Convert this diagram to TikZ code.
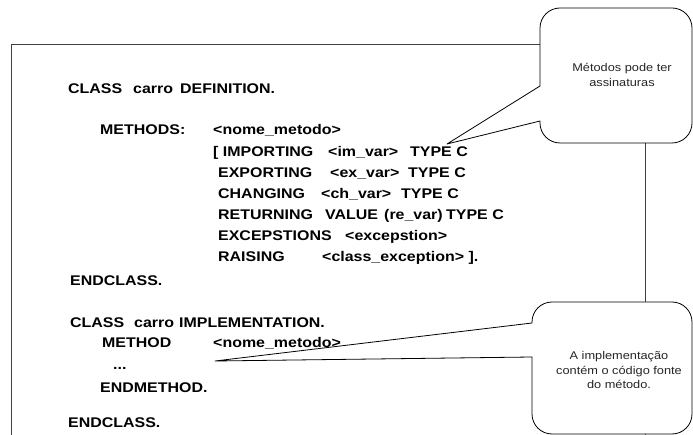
\documentclass[tikz,border=0pt]{standalone}
\usepackage{fontspec}
\setmainfont{Liberation Sans}[FakeStretch=1.14]
\begin{document}
\begin{tikzpicture}[x=1pt,y=-1pt,
  code/.style={anchor=base west, inner sep=0pt, font=\fontsize{14}{16}\selectfont\bfseries},
  note/.style={align=center, inner sep=0pt, font=\fontsize{11.2}{14.5}\selectfont, text=black!85},
  callout/.style={draw=black, line width=0.8pt, fill=white, line join=round},
  frameline/.style={draw=black!75, line width=0.8pt}]
\useasboundingbox (0,0) rectangle (693,435);
% frame
\draw[frameline] (11,445) -- (11,44) -- (645,44) -- (645,445);
% callouts
\coordinate (tip1) at (447,144);
\coordinate (tip2) at (215,361);
\draw[callout] (540,86) -- (tip1) -- (540,121) -- (540,123)
  arc[start angle=180,end angle=90,radius=20] -- (672,143)
  arc[start angle=90,end angle=0,radius=20] -- (692,28)
  arc[start angle=0,end angle=-90,radius=20] -- (560,8)
  arc[start angle=-90,end angle=-180,radius=20] -- cycle;
\draw[callout] (532,323) -- (tip2) -- (532,357) -- (532,414)
  arc[start angle=180,end angle=90,radius=20] -- (672,434)
  arc[start angle=90,end angle=0,radius=20] -- (692,322)
  arc[start angle=0,end angle=-90,radius=20] -- (552,302)
  arc[start angle=-90,end angle=-180,radius=20] -- cycle;
\node[note] (n1) at (622,75) {Métodos pode ter\\assinaturas};
\node[note] (n2) at (619,370) {A implementação\\contém o código fonte\\do método.};
% definition
\node[code] (c1) at (68,94) {CLASS};
\node[code] (c2) at (133,94) {carro};
\node[code] (c3) at (180,94) {DEFINITION.};
\node[code] (m1) at (100,135) {METHODS:};
\node[code] (m2) at (213,135) {<nome\_metodo>};
\node[code] (i1) at (213,157) {[ IMPORTING};
\node[code] (i2) at (328,157) {<im\_var>};
\node[code] (i3) at (410,157) {TYPE C};
\node[code] (e1) at (218,178) {EXPORTING};
\node[code] (e2) at (330,178) {<ex\_var>};
\node[code] (e3) at (408,178) {TYPE C};
\node[code] (h1) at (218,199) {CHANGING};
\node[code] (h2) at (321,199) {<ch\_var>};
\node[code] (h3) at (401,199) {TYPE C};
\node[code] (r1) at (218,220) {RETURNING};
\node[code] (r2) at (325,220) {VALUE};
\node[code] (r3) at (384,220) {(re\_var)};
\node[code] (r4) at (446,220) {TYPE C};
\node[code] (x1) at (218,241) {EXCEPSTIONS};
\node[code] (x2) at (345,241) {<excepstion>};
\node[code] (s1) at (218,262) {RAISING};
\node[code] (s2) at (322,262) {<class\_exception> ].};
\node[code] (ec1) at (70,286) {ENDCLASS.};
% implementation
\node[code] (k1) at (70,328) {CLASS};
\node[code] (k2) at (134,328) {carro};
\node[code] (k3) at (179,328) {IMPLEMENTATION.};
\node[code] (mt1) at (102,348) {METHOD};
\node[code] (mt2) at (213,348) {<nome\_metodo>};
\node[code] (dots) at (113,370) {...};
\node[code] (em) at (100,392) {ENDMETHOD.};
\node[code] (ec2) at (68,427) {ENDCLASS.};
\end{tikzpicture}
\end{document}
